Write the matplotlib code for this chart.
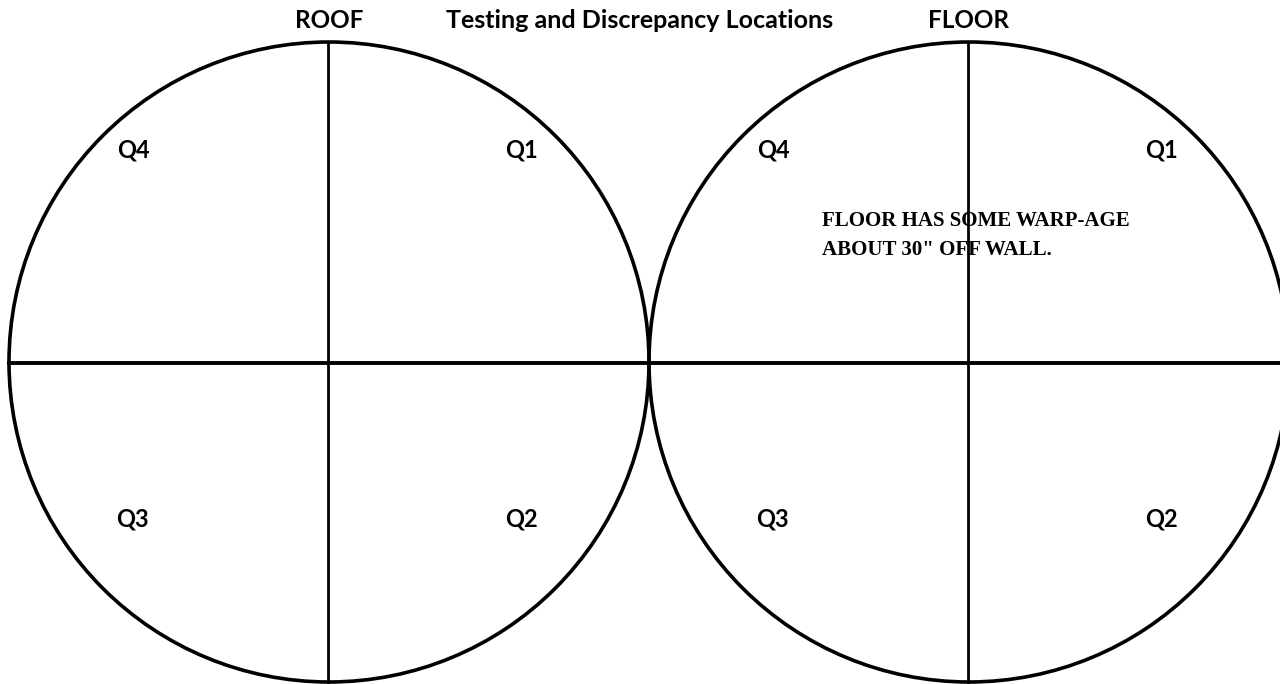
import matplotlib.pyplot as plt
from matplotlib.patches import Circle

# Diagram of the two test surfaces (roof and floor), each split into quadrants
title = "Testing and Discrepancy Locations"
panels = ["ROOF", "FLOOR"]
quadrants = ["Q1", "Q2", "Q3", "Q4"]
note_lines = ["FLOOR HAS SOME WARP-AGE", "ABOUT 30\" OFF WALL."]

# geometry in pixels (image coords, y going down)
radius = 320
centers_x = [329, 969]
center_y = 362
quad_dx = {"Q1": 193, "Q2": 193, "Q3": -197, "Q4": -196}
quad_dy = {"Q1": -212, "Q2": 157, "Q3": 157, "Q4": -212}

fig = plt.figure(figsize=(12.8, 6.84), dpi=100)
ax = fig.add_axes([0, 0, 1, 1])
ax.set_xlim(0, 1280)
ax.set_ylim(684, 0)
ax.set_aspect("equal")
ax.axis("off")

sans = ["Lato", "DejaVu Sans"]

for name, cx in zip(panels, centers_x):
    ax.add_patch(Circle((cx, center_y), radius, fill=False, ec="black", lw=2.6))
    # vertical divider
    ax.plot([cx - 1, cx - 1], [center_y - radius, center_y + radius], color="black", lw=2.0)
    ax.text(cx, 20, name, ha="center", va="center", fontsize=17.5,
            fontweight="bold", family=sans)
    for q in quadrants:
        ax.text(cx + quad_dx[q], center_y + quad_dy[q], q, ha="center", va="center",
                fontsize=17, fontweight="bold", family=sans)

# horizontal divider through both circles
ax.plot([centers_x[0] - radius, 1280], [center_y + 1, center_y + 1], color="black", lw=2.8)

ax.text(640, 20, title, ha="center", va="center", fontsize=18,
        fontweight="bold", family=sans)

for i, line in enumerate(note_lines):
    ax.text(822, 221 + i * 29, line, ha="left", va="center", fontsize=15,
            fontweight="bold", family=["Liberation Serif", "DejaVu Serif"])

fig.savefig("out.png", dpi=100)
